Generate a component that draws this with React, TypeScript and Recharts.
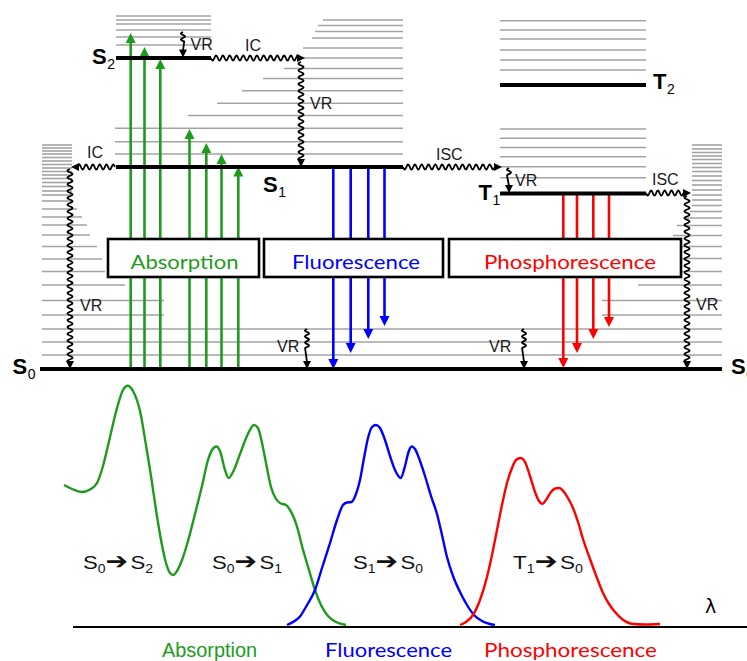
import React from 'react';
import { ComposedChart, XAxis, YAxis, Line, ReferenceLine } from 'recharts';

// Diagram units: x runs left to right, y runs top to bottom (energy grows upwards).
const W = 747;
const H = 661;

// ---- electronic levels ----
const LEVEL_NAMES = ['S2', 'S1', 'T2', 'T1', 'S0'];
const LEVEL_Y = [58, 167, 85, 193.5, 369];
const LEVEL_FROM = [116, 116, 500, 500, 40];
const LEVEL_TO = [211, 403, 646, 646, 722];

// label anchors (main letter, subscript)
const LEVEL_LABELS = [
  { main: 'S', sub: '2', x: 92, y: 63.5 },
  { main: 'S', sub: '1', x: 263, y: 191.5 },
  { main: 'S', sub: '0', x: 12.5, y: 373.5 },
  { main: 'T', sub: '2', x: 653, y: 88.5 },
  { main: 'T', sub: '1', x: 478.5, y: 200 },
  { main: 'S', sub: '0', x: 731, y: 373.5 },
];

// ---- vibrational sub-levels ----
const S2_VIB = [16, 20, 24, 30, 37, 45];
const S2_VIB_SPAN = [116, 211];

// [y, left end]; right end shared
const S1_VIB: [number, number][] = [
  [20, 323], [25.5, 318], [31.5, 315], [38, 312], [48, 303], [58, 300],
  [68.5, 284], [78.5, 263], [90.7, 242], [103.3, 217], [115.5, 188],
  [128.3, 115], [141.7, 115], [154, 115],
];
const S1_VIB_RIGHT = 403;

const T_VIB = [20.7, 30, 39, 50, 60, 70, 129, 138.3, 147.5, 156.7, 166.7, 177.7];
const T_VIB_SPAN = [500, 646];

// S0 ladder, left wall: [y, right end]
const S0_LEFT: [number, number][] = [
  [145, 72], [148, 72], [151, 72], [154, 72], [157.5, 72], [161, 72], [164.5, 72],
  [168, 72], [171.5, 72], [175, 72], [178.5, 72], [182.5, 72], [186.5, 72],
  [191, 72], [195, 72], [201, 72], [209, 77], [217, 82], [225, 87], [235, 90],
  [246.5, 97], [259, 102], [271.5, 105], [285, 125], [300.5, 164], [315, 164],
];
// S0 ladder, right wall: [y, left end]
const S0_RIGHT: [number, number][] = [
  [145, 692], [149, 692], [152.5, 692], [156, 692], [159.5, 692], [163.5, 692],
  [167.5, 692], [171.5, 692], [176, 692], [180.5, 692], [185, 692], [190, 692],
  [195, 692], [200, 692], [205.5, 692], [211.5, 690], [218, 686], [225.5, 677],
  [235.5, 673], [246.5, 666], [258.5, 660], [271.5, 652], [285, 638],
  [300.5, 602], [315, 602],
];
const S0_FULL = [329, 342, 355];
const S0_SPAN = [42, 722];

// ---- radiative transitions ----
const ABS_X = [130.7, 144.5, 160.3, 189.5, 206.3, 221.5, 238.3];
const ABS_TOP = [33, 47, 59, 129, 143, 154, 166.5];
const ABS_FROM = 369;
const FLU_X = [333.3, 350.7, 368.3, 384.5];
const FLU_END = [369, 353, 339, 326];
const FLU_FROM = 167;
const PHO_X = [563.3, 577, 593.3, 609];
const PHO_END = [368, 353, 339, 327];
const PHO_FROM = 193.5;

// ---- non-radiative transitions: [x1, y1, x2, y2, wavy fraction] ----
const NONRAD: [number, number, number, number, number][] = [
  [183, 32, 183, 57.5, 0.55],
  [211, 58, 305, 58, 1],
  [301, 62, 301, 167, 1],
  [115, 167, 71, 167, 1],
  [70, 169, 70, 369, 1],
  [307, 329, 307, 369, 0.6],
  [403, 167, 502, 167, 1],
  [509, 168, 509, 193, 0.45],
  [646, 193, 691, 193, 1],
  [687, 196, 687, 369, 1],
  [524, 329, 524, 369, 0.6],
];
const NONRAD_LABELS = [
  { text: 'VR', x: 190.5, y: 50 },
  { text: 'IC', x: 245, y: 50.5 },
  { text: 'VR', x: 310, y: 109 },
  { text: 'IC', x: 87, y: 158 },
  { text: 'VR', x: 80, y: 310.5 },
  { text: 'VR', x: 277, y: 352 },
  { text: 'ISC', x: 436, y: 160 },
  { text: 'VR', x: 515, y: 186 },
  { text: 'ISC', x: 652, y: 184.5 },
  { text: 'VR', x: 489, y: 352 },
  { text: 'VR', x: 696, y: 310 },
];

// ---- boxes ----
const BOX_NAMES = ['Absorption', 'Fluorescence', 'Phosphorescence'];
const BOX_FROM = [108, 264, 449];
const BOX_TO = [259, 443, 681];
const BOX_Y = [239, 277];
const BOX_TEXT_X = [184.5, 356, 570];
const BOX_TEXT_W = [108, 128, 172];

// ---- spectra ----
const ABSORPTION = [
  { x: 64, y: 485 }, { x: 72, y: 489 }, { x: 81.7, y: 492 }, { x: 90, y: 489.5 },
  { x: 97, y: 483 }, { x: 103, y: 466 }, { x: 110, y: 437 }, { x: 117, y: 408 },
  { x: 123, y: 390 }, { x: 127.7, y: 385.7 }, { x: 133, y: 391 }, { x: 140, y: 411 },
  { x: 146, y: 445 }, { x: 151, y: 476 }, { x: 156, y: 510 }, { x: 161, y: 540 },
  { x: 166, y: 563 }, { x: 170, y: 573 }, { x: 173.3, y: 575 }, { x: 177, y: 571 },
  { x: 182, y: 560 }, { x: 188, y: 541 }, { x: 195, y: 514 }, { x: 202, y: 486 },
  { x: 208, y: 460 }, { x: 212, y: 450 }, { x: 216.5, y: 446.5 }, { x: 220, y: 451 },
  { x: 225, y: 470 }, { x: 228.5, y: 478 }, { x: 233, y: 472 }, { x: 240, y: 454 },
  { x: 247, y: 436 }, { x: 254, y: 425 }, { x: 258, y: 428 }, { x: 262, y: 443 },
  { x: 266, y: 463 }, { x: 271, y: 487 }, { x: 276, y: 499 }, { x: 281, y: 503.5 },
  { x: 286, y: 505 }, { x: 290, y: 510 }, { x: 294, y: 518 }, { x: 298, y: 530 },
  { x: 302, y: 546 }, { x: 309, y: 570 }, { x: 315, y: 590 }, { x: 321, y: 605 },
  { x: 328, y: 616 }, { x: 336, y: 622 }, { x: 346, y: 625 },
];
const FLUORESCENCE = [
  { x: 287, y: 625 }, { x: 293, y: 622 }, { x: 300, y: 616.5 }, { x: 307, y: 605 },
  { x: 315, y: 590 }, { x: 322, y: 568 }, { x: 330, y: 543 }, { x: 337, y: 520 },
  { x: 343, y: 505 }, { x: 347, y: 502.5 }, { x: 351.5, y: 502 }, { x: 356, y: 494 },
  { x: 360, y: 480 }, { x: 364, y: 458 }, { x: 368, y: 438 }, { x: 372, y: 427 },
  { x: 376, y: 425 }, { x: 380, y: 428 }, { x: 385, y: 440 }, { x: 390, y: 456 },
  { x: 395, y: 470 }, { x: 400.7, y: 478 }, { x: 405, y: 466 }, { x: 408.5, y: 452 },
  { x: 411.7, y: 446.5 }, { x: 415, y: 449 }, { x: 420, y: 461 }, { x: 425, y: 476 },
  { x: 431, y: 496 }, { x: 437, y: 514 }, { x: 442, y: 535 }, { x: 447, y: 557 },
  { x: 453, y: 576 }, { x: 460, y: 592 }, { x: 467, y: 605 }, { x: 474, y: 615 },
  { x: 482, y: 621 }, { x: 490, y: 624 }, { x: 495, y: 625 },
];
const PHOSPHORESCENCE = [
  { x: 460, y: 625 }, { x: 466, y: 622 }, { x: 473, y: 615 }, { x: 480, y: 600 },
  { x: 487, y: 577 }, { x: 492, y: 555 }, { x: 497, y: 530 }, { x: 502, y: 505 },
  { x: 507, y: 483 }, { x: 512, y: 468 }, { x: 516, y: 460 }, { x: 520.7, y: 458 },
  { x: 525, y: 462 }, { x: 530, y: 476 }, { x: 535, y: 492 }, { x: 539, y: 501 },
  { x: 542.3, y: 504 }, { x: 546, y: 500 }, { x: 551, y: 492 }, { x: 555, y: 488.5 },
  { x: 559.3, y: 488 }, { x: 564, y: 492 }, { x: 569, y: 500 }, { x: 573, y: 508 },
  { x: 578, y: 522 }, { x: 583, y: 539 }, { x: 590, y: 559 }, { x: 597, y: 578 },
  { x: 603, y: 593 }, { x: 609, y: 604 }, { x: 615, y: 612 }, { x: 622, y: 619 },
  { x: 633, y: 624 }, { x: 645, y: 624.5 }, { x: 660, y: 624 },
];
const SPECTRUM_BASE_Y = 627;
const SPECTRUM_BASE_X = [73, 747];

const TRANSITIONS = [
  { a: 'S', as: '0', b: 'S', bs: '2', x: 83 },
  { a: 'S', as: '0', b: 'S', bs: '1', x: 212 },
  { a: 'S', as: '1', b: 'S', bs: '0', x: 353 },
  { a: 'T', as: '1', b: 'S', bs: '0', x: 513 },
];
const TRANSITION_Y = 569;
const BOTTOM_X = [209.5, 388.5, 570.5];
const BOTTOM_W = [95, 127, 173];
const BOTTOM_Y = 657;

const GREEN = '#1e9b1e';
const BLUE = '#0000ff';
const RED = '#ff0000';
const GRAY = '#a3a3a3';
const COLORS = [GREEN, BLUE, RED];
const SANS = 'Liberation Sans, Arial, sans-serif';
const CAL = 'Lato, Carlito, sans-serif';

// ---- shapes drawn from the scaled segment end points ----
const plain = (stroke: string, w: number) => (p: any) => (
  <line x1={p.x1} y1={p.y1} x2={p.x2} y2={p.y2} stroke={stroke} strokeWidth={w} />
);

const head = (x2: number, y2: number, ux: number, uy: number, hl: number, hw: number, color: string) => {
  const bx = x2 - ux * hl;
  const by = y2 - uy * hl;
  const nx = -uy;
  const ny = ux;
  return (
    <polygon
      points={`${x2},${y2} ${bx + (nx * hw) / 2},${by + (ny * hw) / 2} ${bx - (nx * hw) / 2},${by - (ny * hw) / 2}`}
      fill={color}
    />
  );
};

const arrow = (color: string, w: number, hl: number, hw: number) => (p: any) => {
  const len = Math.hypot(p.x2 - p.x1, p.y2 - p.y1);
  const ux = (p.x2 - p.x1) / len;
  const uy = (p.y2 - p.y1) / len;
  return (
    <g>
      <line x1={p.x1} y1={p.y1} x2={p.x2 - ux * (hl - 1)} y2={p.y2 - uy * (hl - 1)} stroke={color} strokeWidth={w} />
      {head(p.x2, p.y2, ux, uy, hl, hw, color)}
    </g>
  );
};

const wavy = (frac: number) => (p: any) => {
  const len = Math.hypot(p.x2 - p.x1, p.y2 - p.y1);
  const ux = (p.x2 - p.x1) / len;
  const uy = (p.y2 - p.y1) / len;
  const nx = -uy;
  const ny = ux;
  const hl = 8;
  const waveLen = (len - hl) * frac;
  const period = frac < 1 ? 6 : 6.8;
  const amp = frac < 1 ? 2 : 2.5;
  let d = `M${p.x1},${p.y1}`;
  const steps = Math.max(4, Math.round(waveLen * 2));
  for (let i = 1; i <= steps; i++) {
    const t = (i / steps) * waveLen;
    const o = amp * Math.sin((2 * Math.PI * t) / period);
    d += ` L${p.x1 + ux * t + nx * o},${p.y1 + uy * t + ny * o}`;
  }
  d += ` L${p.x2 - ux * (hl - 1)},${p.y2 - uy * (hl - 1)}`;
  return (
    <g>
      <path d={d} fill="none" stroke="#000" strokeWidth={1.8} />
      {head(p.x2, p.y2, ux, uy, hl, 8, '#000')}
    </g>
  );
};

const box = (p: any) => (
  <rect
    x={Math.min(p.x1, p.x2)}
    y={Math.min(p.y1, p.y2)}
    width={Math.abs(p.x2 - p.x1)}
    height={Math.abs(p.y2 - p.y1)}
    fill="#fff"
    stroke="#000"
    strokeWidth={2.6}
  />
);

const txt = (content: React.ReactNode, attrs: any) => (p: any) => (
  <text x={p.x1} y={p.y1} {...attrs}>
    {content}
  </text>
);

const seg = (key: string, x1: number, y1: number, x2: number, y2: number, shape: any) => (
  <ReferenceLine key={key} segment={[{ x: x1, y: y1 }, { x: x2, y: y2 }]} shape={shape} ifOverflow="visible" />
);

export default function App() {
  const grayLine = plain(GRAY, 1.6);
  const items: React.ReactNode[] = [];

  S2_VIB.forEach((y, i) => items.push(seg(`s2v${i}`, S2_VIB_SPAN[0], y, S2_VIB_SPAN[1], y, grayLine)));
  S1_VIB.forEach(([y, x], i) => items.push(seg(`s1v${i}`, x, y, S1_VIB_RIGHT, y, grayLine)));
  T_VIB.forEach((y, i) => items.push(seg(`tv${i}`, T_VIB_SPAN[0], y, T_VIB_SPAN[1], y, grayLine)));
  S0_LEFT.forEach(([y, x], i) => items.push(seg(`s0l${i}`, S0_SPAN[0], y, x, y, grayLine)));
  S0_RIGHT.forEach(([y, x], i) => items.push(seg(`s0r${i}`, x, y, S0_SPAN[1], y, grayLine)));
  S0_FULL.forEach((y, i) => items.push(seg(`s0f${i}`, S0_SPAN[0], y, S0_SPAN[1], y, grayLine)));

  ABS_X.forEach((x, i) => items.push(seg(`ab${i}`, x, ABS_FROM, x, ABS_TOP[i], arrow(GREEN, 2.6, 10, 10))));
  FLU_X.forEach((x, i) => items.push(seg(`fl${i}`, x, FLU_FROM, x, FLU_END[i], arrow(BLUE, 2.6, 10, 10))));
  PHO_X.forEach((x, i) => items.push(seg(`ph${i}`, x, PHO_FROM, x, PHO_END[i], arrow(RED, 2.6, 10, 10))));

  LEVEL_NAMES.forEach((n, i) =>
    items.push(seg(`lv${n}`, LEVEL_FROM[i], LEVEL_Y[i], LEVEL_TO[i], LEVEL_Y[i], plain('#000', 4)))
  );

  NONRAD.forEach(([x1, y1, x2, y2, f], i) => items.push(seg(`nr${i}`, x1, y1, x2, y2, wavy(f))));

  BOX_NAMES.forEach((n, i) => {
    items.push(seg(`bx${i}`, BOX_FROM[i], BOX_Y[0], BOX_TO[i], BOX_Y[1], box));
    items.push(
      seg(
        `bt${i}`,
        BOX_TEXT_X[i],
        269,
        BOX_TEXT_X[i],
        269,
        txt(n, {
          fill: COLORS[i],
          fontFamily: CAL,
          fontSize: 20,
          textAnchor: 'middle',
          textLength: BOX_TEXT_W[i],
          lengthAdjust: 'spacingAndGlyphs',
        })
      )
    );
  });

  LEVEL_LABELS.forEach((l, i) =>
    items.push(
      seg(
        `ll${i}`,
        l.x,
        l.y,
        l.x,
        l.y,
        txt(
          <>
            <tspan fontSize={22} fontWeight="bold">{l.main}</tspan>
            <tspan fontSize={14} dy={5} dx={0.5}>{l.sub}</tspan>
          </>,
          { fontFamily: SANS, fill: '#000' }
        )
      )
    )
  );

  NONRAD_LABELS.forEach((l, i) =>
    items.push(seg(`nl${i}`, l.x, l.y, l.x, l.y, txt(l.text, { fontFamily: SANS, fontSize: 16, fill: '#1a1a1a' })))
  );

  // spectrum baseline and labels
  items.push(seg('base', SPECTRUM_BASE_X[0], SPECTRUM_BASE_Y, SPECTRUM_BASE_X[1], SPECTRUM_BASE_Y, plain('#000', 2)));
  items.push(
    seg('lambda', 705, 613, 705, 613, txt('λ', { fontFamily: 'DejaVu Sans, sans-serif', fontSize: 19, fill: '#000' }))
  );
  TRANSITIONS.forEach((t, i) =>
    items.push(
      seg(
        `tr${i}`,
        t.x,
        TRANSITION_Y,
        t.x,
        TRANSITION_Y,
        txt(
          <>
            <tspan fontSize={19}>{t.a}</tspan>
            <tspan fontSize={12} dy={4}>{t.as}</tspan>
            <tspan fontSize={23} dy={-4} fontFamily="DejaVu Sans, sans-serif">{'\u2794'}</tspan>
            <tspan fontSize={19} dx={2}>{t.b}</tspan>
            <tspan fontSize={12} dy={4}>{t.bs}</tspan>
          </>,
          { fontFamily: SANS, fill: '#111', textLength: 70, lengthAdjust: 'spacingAndGlyphs' }
        )
      )
    )
  );
  BOX_NAMES.forEach((n, i) =>
    items.push(
      seg(
        `bl${i}`,
        BOTTOM_X[i],
        BOTTOM_Y,
        BOTTOM_X[i],
        BOTTOM_Y,
        txt(n, {
          fill: COLORS[i],
          fontFamily: i === 0 ? SANS : CAL,
          fontSize: 20,
          textAnchor: 'middle',
          textLength: BOTTOM_W[i],
          lengthAdjust: 'spacingAndGlyphs',
        })
      )
    )
  );

  const curve = (data: { x: number; y: number }[], color: string) => (
    <Line
      data={data}
      dataKey="y"
      type="monotone"
      stroke={color}
      strokeWidth={2.4}
      dot={false}
      activeDot={false}
      legendType="none"
      isAnimationActive={false}
    />
  );

  return (
    <div style={{ position: 'absolute', left: 0, top: 0, width: W, height: H, background: '#fff', overflow: 'hidden' }}>
      <ComposedChart width={W} height={H} margin={{ top: 0, right: 0, bottom: 0, left: 0 }}>
        <XAxis type="number" dataKey="x" domain={[0, W]} allowDataOverflow hide />
        <YAxis type="number" domain={[0, H]} allowDataOverflow reversed hide />
        {curve(ABSORPTION, GREEN)}
        {curve(FLUORESCENCE, BLUE)}
        {curve(PHOSPHORESCENCE, RED)}
        {items}
      </ComposedChart>
    </div>
  );
}
